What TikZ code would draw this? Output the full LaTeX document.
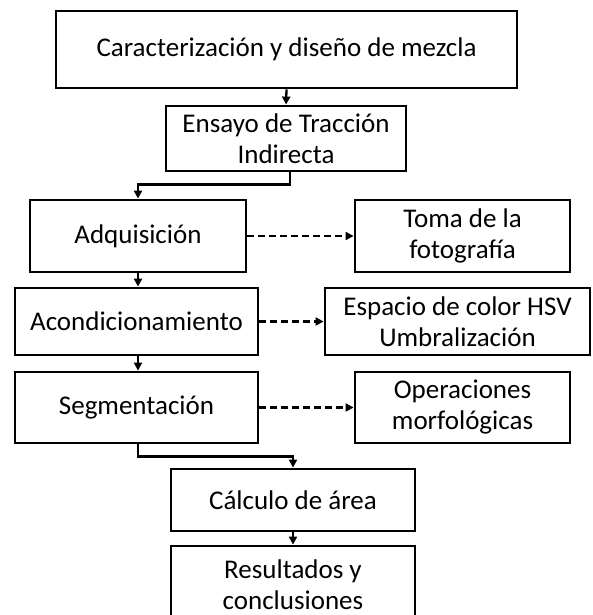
\documentclass[tikz,border=0pt]{standalone}
\usepackage{fontspec}
\setmainfont{Carlito}
\usetikzlibrary{arrows.meta}
\begin{document}
\begin{tikzpicture}[x=1pt,y=-1pt,
  box/.style={draw=black,line width=2.8pt,fill=white,inner sep=0pt,align=center,
    font=\fontsize{27}{31}\selectfont},
  arr/.style={line width=2.3pt,-{Triangle[length=8pt,width=8pt]}},
  darr/.style={line width=2.5pt,dash pattern=on 7pt off 4pt,-{Triangle[length=8pt,width=8pt]}}]
\useasboundingbox (0,0) rectangle (593,615);
\clip (0,0) rectangle (593,615);
\node[box,minimum width=461pt,minimum height=77pt] (b1) at (286.5,49.5) {Caracterización y diseño de mezcla};
\node[box,minimum width=240pt,minimum height=65pt] (b2) at (286,138.5) {Ensayo de Tracción\\Indirecta};
\node[box,minimum width=216pt,minimum height=72pt] (b3) at (138,236) {Adquisición};
\node[box,minimum width=215pt,minimum height=72pt] (b4) at (462.5,236) {Toma de la\\fotografía};
\node[box,minimum width=243pt,minimum height=67pt] (b5) at (136.5,321.5) {Acondicionamiento};
\node[box,minimum width=265pt,minimum height=67pt] (b6) at (457.5,321.5) {Espacio de color HSV\\Umbralización};
\node[box,minimum width=243pt,minimum height=71pt] (b7) at (136.5,407.5) {Segmentación};
\node[box,minimum width=215pt,minimum height=71pt] (b8) at (462.5,407.5) {Operaciones\\morfológicas};
\node[box,minimum width=244pt,minimum height=62pt] (b9) at (293,500) {Cálculo de área};
\node[box,minimum width=244pt,minimum height=78pt] (b10) at (293,585) {Resultados y\\conclusiones};
\coordinate (k1) at ([xshift=4pt]b2.south);
\coordinate (k2) at ([xshift=1.5pt]b7.south);
\draw[arr] (b1.south) -- (b2.north);
\draw[arr] (k1) -- ++(0,12) -| (b3.north);
\draw[arr] (b3.south) -- (b3.south |- b5.north);
\draw[arr] (b3.south |- b5.south) -- (b3.south |- b7.north);
\draw[arr] (k2) -- ++(0,12) -| (b9.north);
\draw[arr] (b9.south) -- (b10.north);
\draw[darr] (b3.east) -- (b4.west);
\draw[darr] (b5.east) -- (b6.west);
\draw[darr] (b7.east) -- (b8.west);
\end{tikzpicture}
\end{document}
